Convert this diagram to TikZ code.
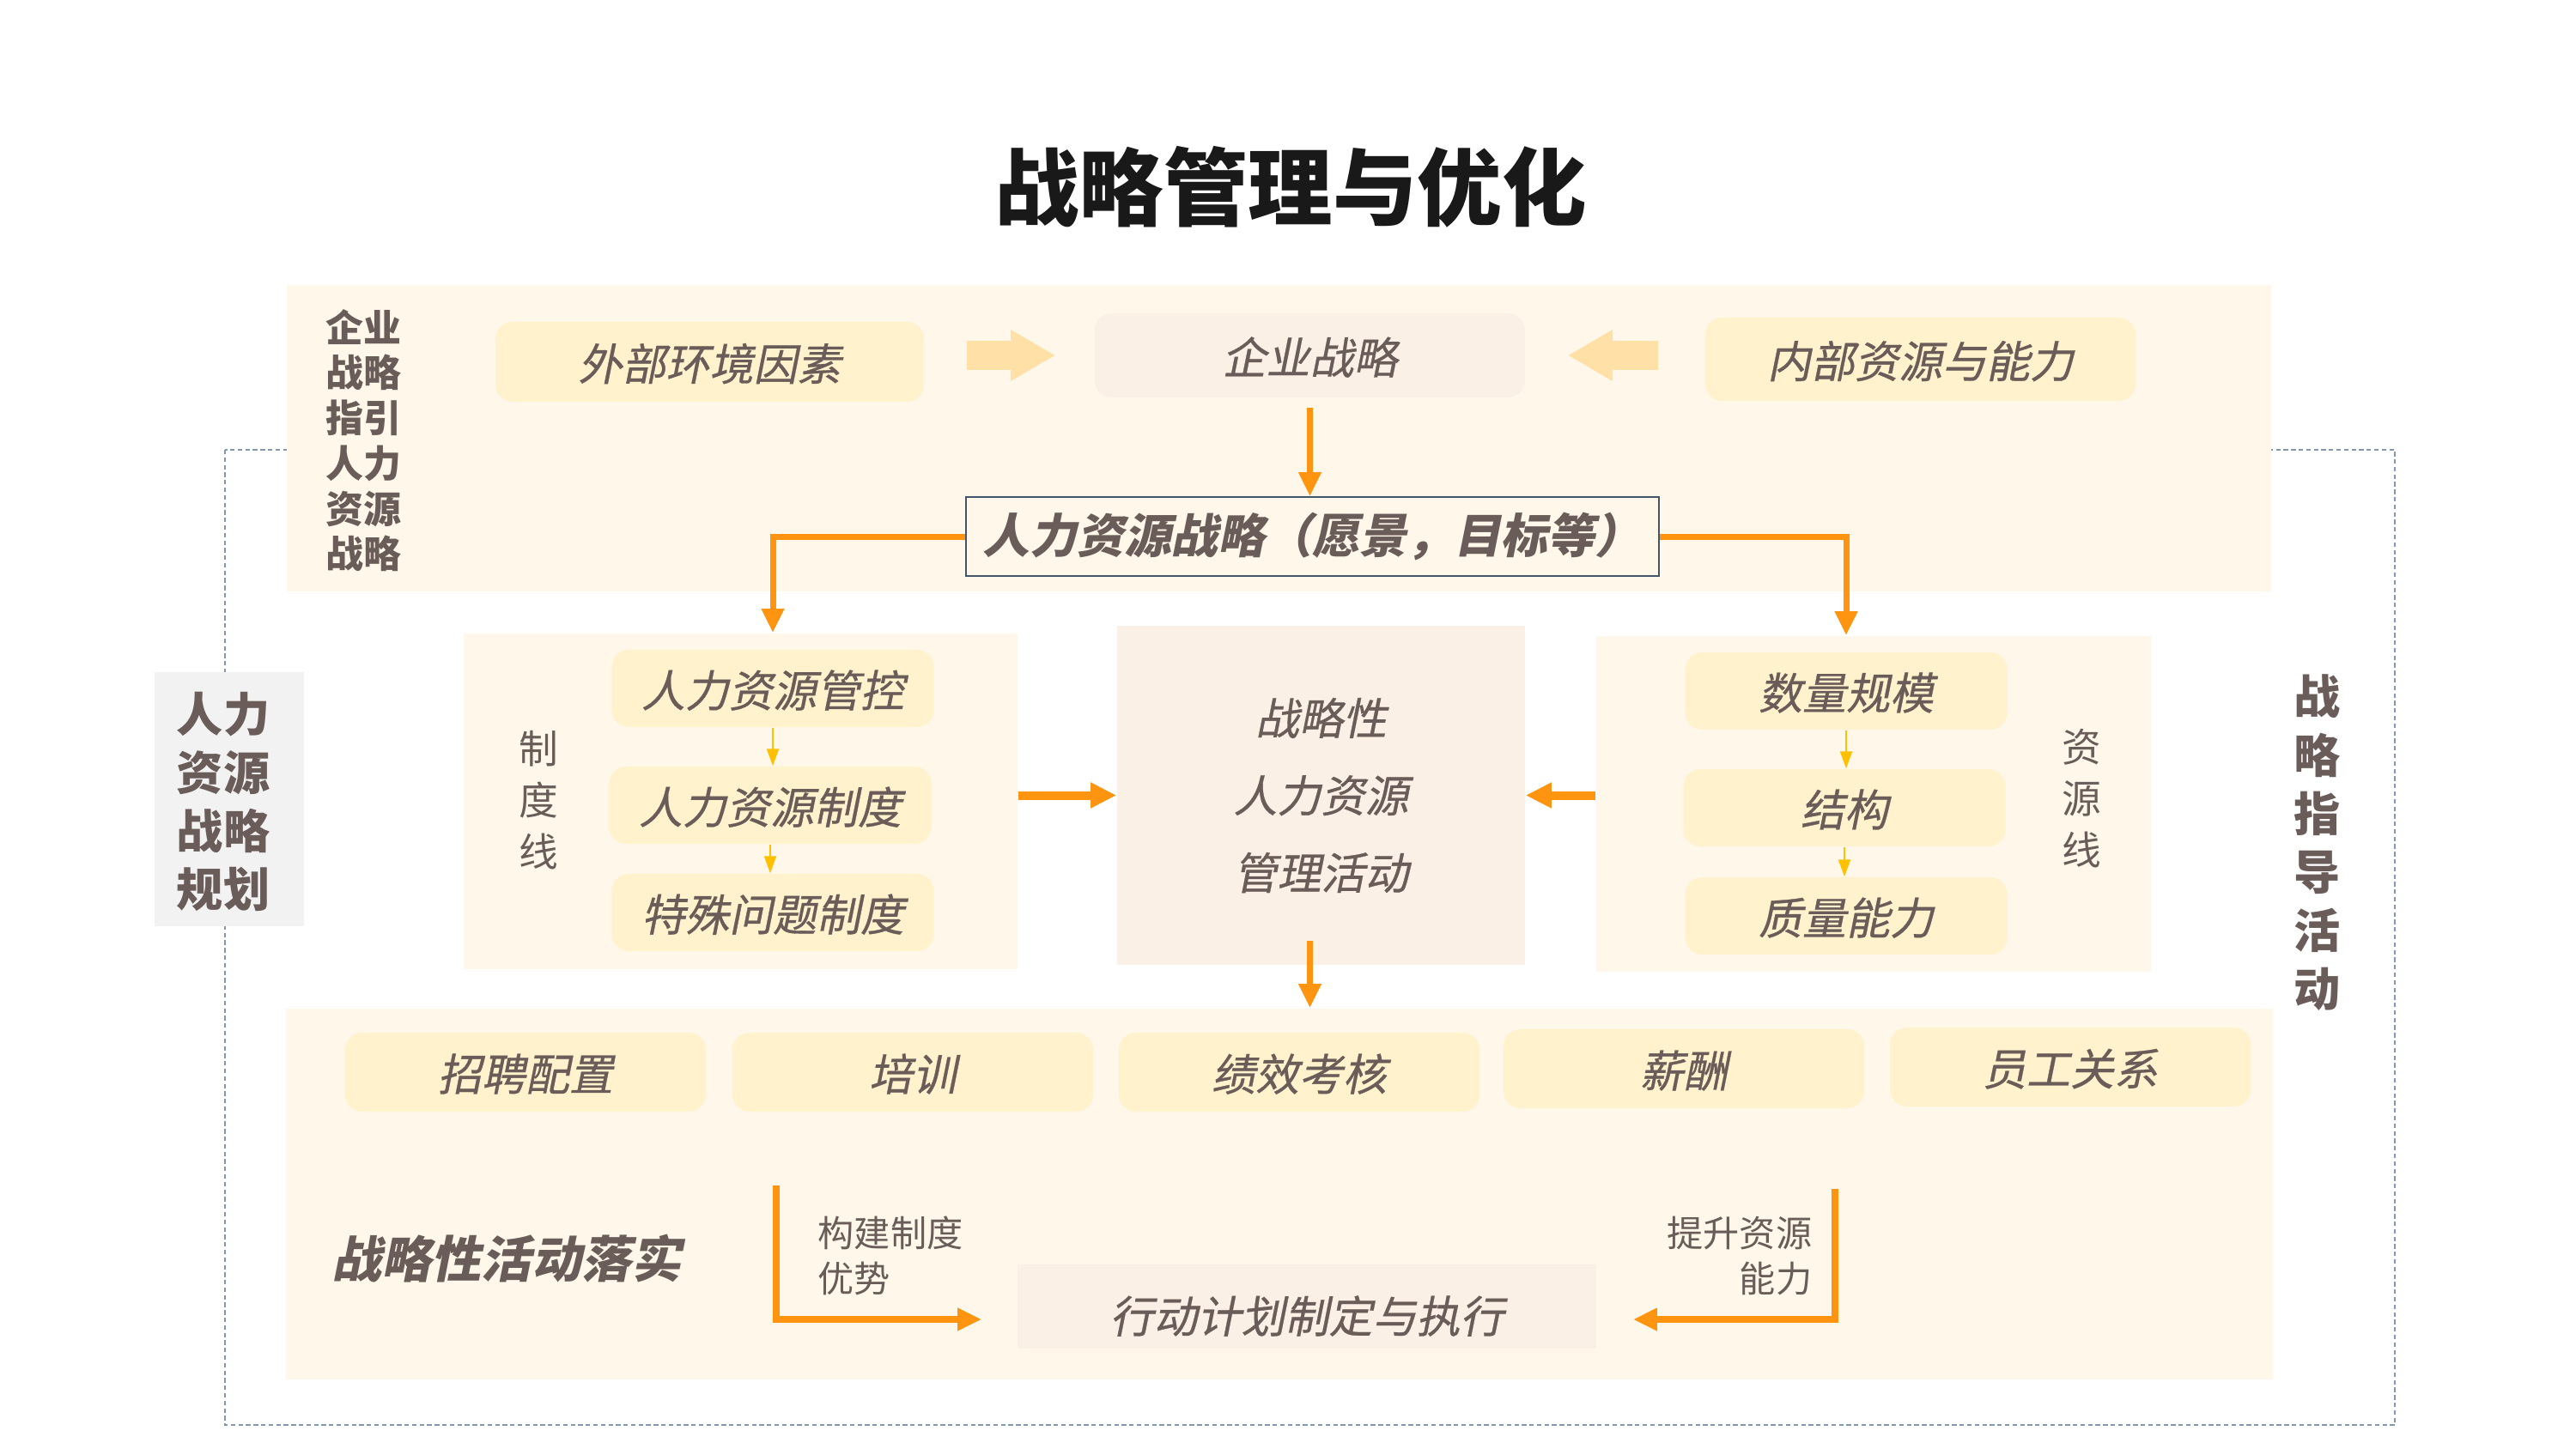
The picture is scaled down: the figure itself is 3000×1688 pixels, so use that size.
\documentclass[tikz,border=0pt]{standalone}
\usepackage{fontspec}
\setmainfont{Noto Sans CJK SC}
\newfontfamily\slfont{Noto Sans CJK SC}[FakeSlant=0.2,FakeBold=0.6]
\newfontfamily\slbfont{Noto Sans CJK SC}[FakeSlant=0.2]
\usepackage{tikz}
\usetikzlibrary{arrows.meta,calc}
\definecolor{txtbrown}{RGB}{106,92,88}
\definecolor{bandcream}{RGB}{255,248,234}
\definecolor{boxyellow}{RGB}{255,242,204}
\definecolor{boxpink}{RGB}{251,240,230}
\definecolor{arrorange}{RGB}{255,148,16}
\definecolor{arryellow}{RGB}{255,192,0}
\definecolor{blockpeach}{RGB}{255,224,166}
\definecolor{lblgrey}{RGB}{242,242,242}
\definecolor{framegrey}{RGB}{132,150,176}
\definecolor{borderslate}{RGB}{68,84,106}

\begin{document}
\begin{tikzpicture}[x=0.01cm, y=-0.01cm,
  every node/.style={text=txtbrown, inner sep=0pt},
  panel/.style={fill=bandcream},
  ybox/.style={fill=boxyellow, rounded corners=0.2cm, font=\slfont\fontsize{14.5}{17}\selectfont, text depth=-0.06cm},
  sbox/.style={ybox, minimum width=3.75cm, minimum height=0.9cm},
  abox/.style={ybox, minimum width=4.2cm, minimum height=0.92cm},
  pbox/.style={fill=boxpink, font=\slfont\fontsize{14.5}{17}\selectfont},
  vlbl/.style={align=center, font=\bfseries\fontsize{15.4}{19.3}\selectfont},
  side/.style={align=center, font=\fontsize{13}{17}\selectfont},
  note/.style={font=\fontsize{12}{15}\selectfont},
  orarr/.style={draw=arrorange, line width=0.07cm, -{Triangle[length=0.28cm,width=0.25cm]}},
  fatarr/.style={draw=arrorange, line width=0.1cm, -{Triangle[length=0.3cm,width=0.28cm]}},
  yarr/.style={draw=arryellow, line width=0.6pt, -{Triangle[length=0.2cm,width=0.14cm]}},
  blockarr/.style={draw=blockpeach, line width=0.33cm, -{Triangle[length=0.52cm,width=0.56cm]}}]
\useasboundingbox (0,0) rectangle (3000,1688);
% outer frame
\draw[framegrey, line width=0.5pt, dash pattern=on 1.5pt off 1pt] (262,524) rectangle (2789,1660);
% title
\node[font=\bfseries\fontsize{28}{34}\selectfont, text=black!90] (title) at (1503,218) {战略管理与优化};
% bands and panels
\node[panel, minimum width=23.09cm, minimum height=3.57cm] (topband) at (1489.5,510.5) {};
\node[panel, minimum width=23.12cm, minimum height=4.32cm] (botband) at (1490,1391) {};
\node[fill=lblgrey, minimum width=1.74cm, minimum height=2.96cm] (lblbox) at (267,931) {};
\node[vlbl] (lbl) at (260,934) {人力\\资源\\战略\\规划};
\node[panel, minimum width=6.45cm, minimum height=3.91cm] (zpanel) at (862.5,933.5) {};
\node[panel, minimum width=6.46cm, minimum height=3.91cm] (rpanel) at (2182,936.5) {};
\node[pbox, minimum width=4.75cm, minimum height=3.95cm, align=center,
  font=\slfont\fontsize{14.5}{25.6}\selectfont] (cp) at (1538.5,926.5) {战略性\\人力资源\\管理活动};
% top row
\node[align=center, font=\bfseries\fontsize{12.5}{15}\selectfont] (toplbl) at (423,513) {企业\\战略\\指引\\人力\\资源\\战略};
\node[ybox, minimum width=4.99cm, minimum height=0.93cm] (ext) at (826.5,421.5) {外部环境因素};
\node[pbox, rounded corners=0.2cm, minimum width=5.01cm, minimum height=0.98cm, text depth=-0.1cm] (qy) at (1525.5,414) {企业战略};
\node[ybox, minimum width=5.01cm, minimum height=0.97cm] (nb) at (2236.5,418.5) {内部资源与能力};
\node[draw=borderslate, line width=0.5pt, minimum width=8.07cm, minimum height=0.92cm,
  font=\slbfont\bfseries\fontsize{15.6}{18}\selectfont] (hrs) at (1528.5,625) {人力资源战略（愿景，目标等）};
\draw[blockarr, shorten <=0.49cm, shorten >=0.45cm] (ext.east |- qy.west) -- (qy.west);
\draw[blockarr, shorten <=0.54cm, shorten >=0.49cm] (nb.west |- qy.east) -- (qy.east);
\draw[orarr, shorten <=0.11cm] (qy.south) -- (qy.south |- hrs.north);
% system line
\node[sbox] (gk) at (900,802) {人力资源管控};
\node[sbox] (zd) at (897,938) {人力资源制度};
\node[sbox] (ts) at (900,1063) {特殊问题制度};
\node[side] (zdx) at (627,932) {制\\度\\线};
\draw[yarr] (gk.south) -- (gk.south |- zd.north);
\draw[yarr] (zd.south) -- (zd.south |- ts.north);
% resource line
\node[sbox] (sl) at (2150,805) {数量规模};
\node[sbox] (jg) at (2148,941) {结构};
\node[sbox] (zl) at (2150,1067) {质量能力};
\node[side] (zyx) at (2424,930) {资\\源\\线};
\draw[yarr] (sl.south) -- (sl.south |- jg.north);
\draw[yarr] (jg.south) -- (jg.south |- zl.north);
% strategy to the two lines
\draw[orarr] (hrs.west) -| (gk |- zpanel.north);
\draw[orarr] (hrs.east) -| (sl |- rpanel.north);
\draw[fatarr] (zpanel.east |- cp.west) -- (cp.west);
\draw[fatarr] (rpanel.west |- cp.east) -- (cp.east);
\draw[orarr] ($(qy.south |- cp.south)+(0,-29)$) -- (qy.south |- botband.north);
% right label
\node[vlbl, font=\bfseries\fontsize{15.4}{19.4}\selectfont] (rlbl) at (2699,982) {战\\略\\指\\导\\活\\动};
% activities
\node[abox] (zp) at (612,1249) {招聘配置};
\node[abox] (px) at (1063,1249) {培训};
\node[abox] (jx) at (1513,1249) {绩效考核};
\node[abox] (xc) at (1961,1245) {薪酬};
\node[abox] (yg) at (2411,1243) {员工关系};
\node[font=\slbfont\bfseries\fontsize{16.5}{19}\selectfont] (lsdl) at (590,1466) {战略性活动落实};
\node[pbox, minimum width=6.74cm, minimum height=0.98cm, text height=0.67cm, text depth=0.06cm] (act) at (1522,1522) {行动计划制定与执行};
\coordinate (lstart) at (904,1381);
\coordinate (rstart) at (2137,1385);
\draw[orarr, line width=0.08cm, shorten >=0.41cm] (lstart) |- ([yshift=-0.15cm]act.west);
\draw[orarr, line width=0.08cm, shorten >=0.42cm] (rstart) |- ([yshift=-0.15cm]act.east);
\node[note, anchor=west, align=left] (gjzd) at (952,1463) {构建制度\\优势};
\node[note, anchor=east, align=right] (tszy) at (2111,1463) {提升资源\\能力};
\end{tikzpicture}
\end{document}
